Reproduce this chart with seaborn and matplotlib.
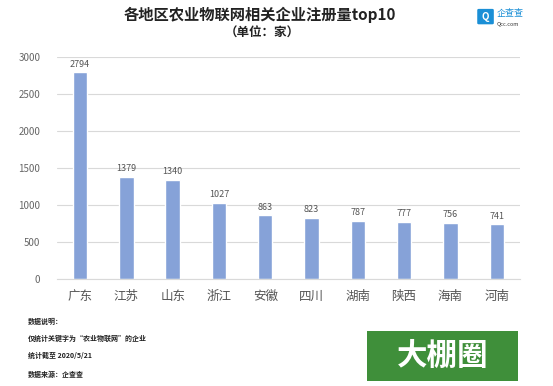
import matplotlib
matplotlib.use('Agg')
import matplotlib.pyplot as plt
import seaborn as sns
import pandas as pd
from matplotlib.patches import FancyBboxPatch, Rectangle

# data
regions = ['广东', '江苏', '山东', '浙江', '安徽', '四川', '湖南', '陕西', '海南', '河南']
counts = [2794, 1379, 1340, 1027, 863, 823, 787, 777, 756, 741]
yticks = [0, 500, 1000, 1500, 2000, 2500, 3000]
notes = ['数据说明：', '仅统计关键字为“农业物联网”的企业', '统计截至 2020/5/21', '数据来源：企查查']

df = pd.DataFrame({'region': regions, 'count': counts})

sns.set_style('white')
plt.rcParams['font.family'] = ['Noto Sans CJK SC', 'DejaVu Sans']

fig = plt.figure(figsize=(5.53, 3.86), dpi=100)
ax = fig.add_axes([0.103, 0.277, 0.837, 0.575])

sns.barplot(data=df, x='region', y='count', ax=ax, color='#86a2d8',
            width=0.31, saturation=1)
for i, v in enumerate(counts):
    ax.text(i, v + 50, str(v), ha='center', va='bottom', fontsize=6.5, color='#555555')

ax.set_ylim(0, 3000)
ax.set_xlim(-0.5, 9.5)
ax.set_yticks(yticks)
ax.yaxis.grid(True, color='#d9d9d9', linewidth=0.8)
ax.set_axisbelow(True)
for s in ['top', 'right', 'left']:
    ax.spines[s].set_visible(False)
ax.spines['bottom'].set_color('#d9d9d9')
ax.tick_params(axis='y', length=0, labelsize=7, colors='#666666', pad=12)
ax.tick_params(axis='x', length=0, labelsize=9, colors='#555555', pad=8)
ax.set_xlabel('')
ax.set_ylabel('')

# titles
fig.text(0.47, 0.962, '各地区农业物联网相关企业注册量top10', ha='center', va='center',
         fontsize=11, fontweight='bold', color='#222222')
fig.text(0.475, 0.915, '（单位：家）', ha='center', va='center',
         fontsize=9, fontweight='bold', color='#222222')

# logo top right
fig.patches.append(FancyBboxPatch((0.866, 0.940), 0.024, 0.034, boxstyle='round,pad=0.003',
                                  transform=fig.transFigure, facecolor='#1a8fd6', edgecolor='none'))
fig.text(0.878, 0.957, 'Q', ha='center', va='center', fontsize=7, fontweight='bold', color='white')
fig.text(0.898, 0.965, '企查查', ha='left', va='center', fontsize=6.5, color='#1a8fd6')
fig.text(0.898, 0.938, 'Qcc.com', ha='left', va='center', fontsize=4, color='#333333')

# notes bottom left
note_y = [0.168, 0.124, 0.078, 0.031]
for t, y in zip(notes, note_y):
    fig.text(0.05, y, t, ha='left', va='center', fontsize=5, fontweight='bold', color='#222222')

# watermark bottom right
fig.patches.append(Rectangle((0.664, 0.013), 0.273, 0.130, transform=fig.transFigure,
                             facecolor='#3f8f3a', edgecolor='none'))
fig.text(0.80, 0.078, '大棚圈', ha='center', va='center', fontsize=22, fontweight='heavy',
         color='white')

fig.savefig('out.png', dpi=100)
